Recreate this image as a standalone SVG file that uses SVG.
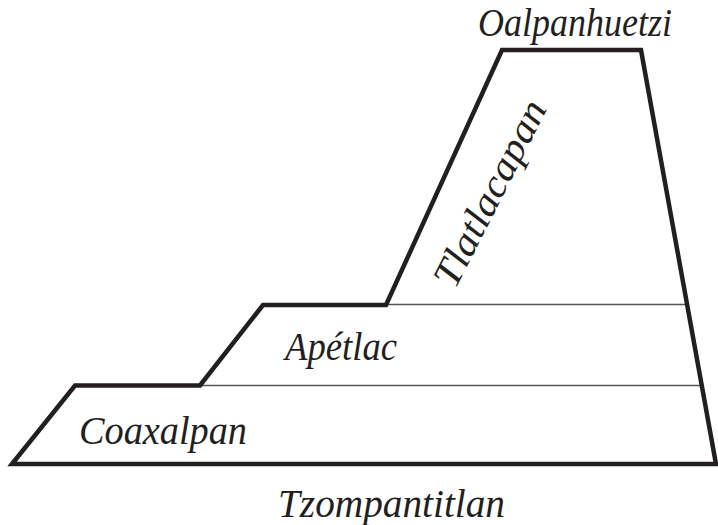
<svg xmlns="http://www.w3.org/2000/svg" width="718" height="525" viewBox="0 0 718 525">
<style>
.outline{fill:none;stroke:#231f20;stroke-width:4.5;stroke-linejoin:miter}
.div{fill:none;stroke:#555;stroke-width:1.5}
.lbl{font-family:"Liberation Serif","Times New Roman",serif;font-style:italic;font-size:39px;fill:#231f20}
</style>
<rect width="718" height="525" fill="#fff"/>
<g id="connectors">
<line class="div" x1="200" y1="385.5" x2="703" y2="385.5"/>
<line class="div" x1="386" y1="304.5" x2="688" y2="304.5"/>
</g>
<g id="pyramid">
<path class="outline" d="M12,464 L75,385.5 L200,385.5 L263,305 L386,305 L502,50 L641,50 L716,464 Z"/>
</g>
<g id="coaxalpan"><text class="lbl" x="79" y="444" textLength="168" lengthAdjust="spacingAndGlyphs">Coaxalpan</text></g>
<g id="apetlac"><text class="lbl" x="285" y="360" textLength="112" lengthAdjust="spacingAndGlyphs">Apétlac</text></g>
<g id="tlatlacapan"><text class="lbl" transform="translate(455,290) rotate(-63)" textLength="204" lengthAdjust="spacingAndGlyphs">Tlatlacapan</text></g>
<g id="oalpanhuetzi"><text class="lbl" x="478" y="36" textLength="194" lengthAdjust="spacingAndGlyphs">Oalpanhuetzi</text></g>
<g id="tzompantitlan"><text class="lbl" x="278" y="517" textLength="227" lengthAdjust="spacingAndGlyphs">Tzompantitlan</text></g>
</svg>
